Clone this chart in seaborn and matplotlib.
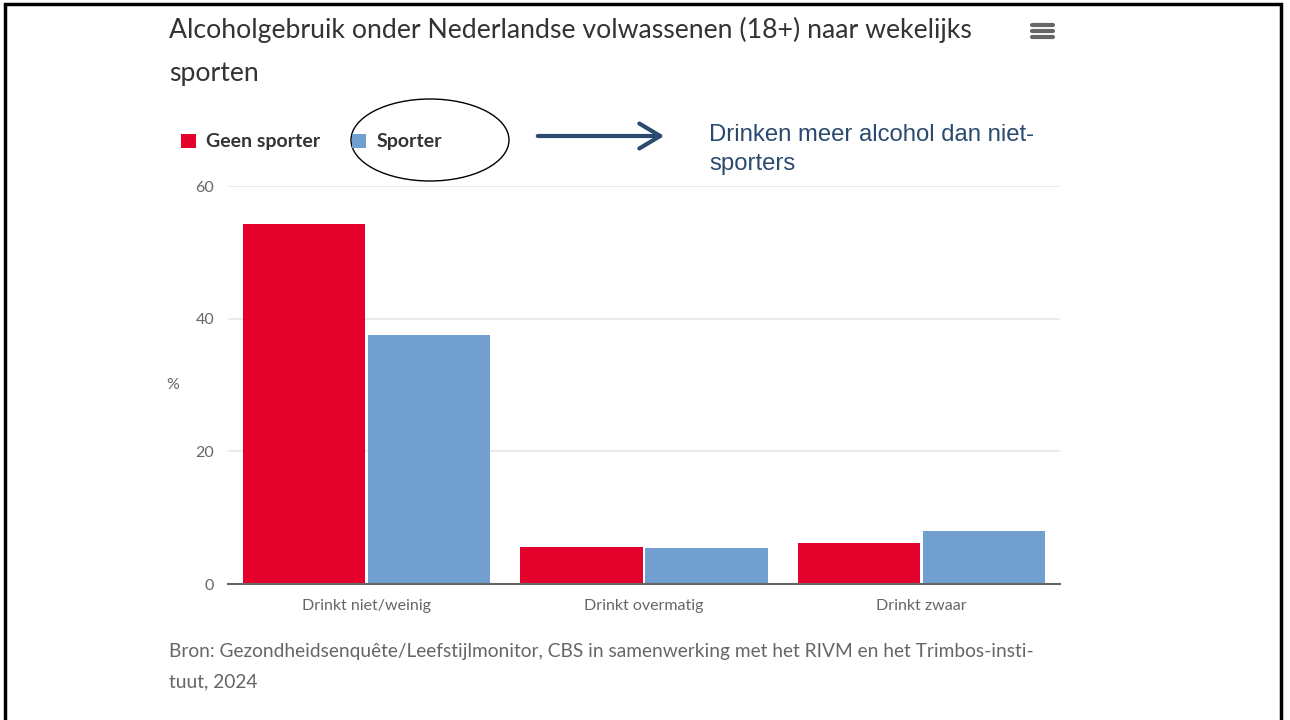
import matplotlib
matplotlib.use("Agg")
import matplotlib.pyplot as plt
import seaborn as sns
import pandas as pd
from matplotlib.patches import Rectangle, Ellipse, FancyArrowPatch, Patch
from matplotlib.lines import Line2D

categories = ["Drinkt niet/weinig", "Drinkt overmatig", "Drinkt zwaar"]
series_names = ["Geen sporter", "Sporter"]
geen_sporter = [54.3, 5.6, 6.2]
sporter = [37.5, 5.4, 8.0]
yticks = [0, 20, 40, 60]

colors = {"Geen sporter": "#E4022D", "Sporter": "#709FD0"}

df = pd.DataFrame({
    "categorie": categories * 2,
    "groep": [series_names[0]] * 3 + [series_names[1]] * 3,
    "waarde": geen_sporter + sporter,
})

sns.set_style("white")
plt.rcParams["font.family"] = ["Lato", "DejaVu Sans"]

W, H = 1290, 720
fig = plt.figure(figsize=(W / 100, H / 100), dpi=100)
ax = fig.add_axes([228 / W, 1 - 584 / H, (1060 - 228) / W, (584 - 186) / H])

sns.barplot(data=df, x="categorie", y="waarde", hue="groep", order=categories,
            hue_order=series_names, palette=colors, width=0.9, gap=0.02,
            saturation=1, ax=ax, legend=False, edgecolor="none")

ax.set_ylim(0, 60)
ax.set_yticks(yticks)
ax.set_yticklabels([str(t) for t in yticks], color="#666666", fontsize=11.5)
ax.tick_params(axis="y", length=0, pad=10)
ax.tick_params(axis="x", length=0, pad=11, labelsize=11.5, labelcolor="#666666")
ax.grid(axis="y", color="#e6e6e6", linewidth=1.2)
ax.set_axisbelow(True)
for s in ["top", "right", "left"]:
    ax.spines[s].set_visible(False)
ax.spines["bottom"].set_color("#666666")
ax.spines["bottom"].set_linewidth(1.5)
ax.set_xlabel("")
ax.set_ylabel("%", rotation=0, color="#666666", fontsize=11.5, va="center")
ax.yaxis.set_label_coords((173 - 228) / (1060 - 228), (584 - 385) / (584 - 186))

# Title
fig.text(169 / W, 1 - 30 / H, "Alcoholgebruik onder Nederlandse volwassenen (18+) naar wekelijks",
         fontsize=19.2, color="#333333", va="center", ha="left")
fig.text(169 / W, 1 - 74 / H, "sporten", fontsize=19.2, color="#333333", va="center", ha="left")

# Hamburger icon
for yy in [25, 31, 37]:
    fig.add_artist(Line2D([1032 / W, 1053 / W], [1 - yy / H, 1 - yy / H],
                          color="#666666", linewidth=3, solid_capstyle="round"))

# Legend
handles = [Patch(facecolor=colors[n], edgecolor="none") for n in series_names]
leg = fig.legend(handles, series_names, loc="center left",
                 bbox_to_anchor=(181 / W, 1 - 142 / H), ncol=2, frameon=False,
                 prop={"weight": "bold", "size": 14}, handlelength=0.75, handleheight=0.75,
                 handletextpad=0.55, columnspacing=1.6, borderpad=0, borderaxespad=0)
for t in leg.get_texts():
    t.set_color("#333333")

# Ellipse around "Sporter"
fig.add_artist(Ellipse((430 / W, 1 - 140 / H), 158 / W, 82 / H, fill=False,
                       edgecolor="black", linewidth=1.0, transform=fig.transFigure))

# Arrow
fig.add_artist(FancyArrowPatch((535 / W, 1 - 136 / H), (667 / W, 1 - 136 / H),
                               transform=fig.transFigure, arrowstyle="->,head_length=10,head_width=6",
                               color="#2B4A6F", linewidth=3, mutation_scale=1.5))

fig.text(709 / W, 1 - 135 / H, "Drinken meer alcohol dan niet-", fontsize=17.2,
         color="#2B4A6F", va="center", ha="left", family=["Liberation Sans", "DejaVu Sans"])
fig.text(709 / W, 1 - 164 / H, "sporters", fontsize=17.2,
         color="#2B4A6F", va="center", ha="left", family=["Liberation Sans", "DejaVu Sans"])

# Source
fig.text(169 / W, 1 - 651 / H,
         "Bron: Gezondheidsenquête/Leefstijlmonitor, CBS in samenwerking met het RIVM en het Trimbos-insti-",
         fontsize=13.8, color="#666666", va="center", ha="left")
fig.text(169 / W, 1 - 682 / H, "tuut, 2024", fontsize=13.8, color="#666666", va="center", ha="left")

# Outer frame
fig.add_artist(Rectangle((5 / W, -0.02), (1281 - 5) / W, 1 - 4 / H + 0.02, fill=False,
                         edgecolor="black", linewidth=2.5, transform=fig.transFigure))

fig.savefig("out.png", dpi=100, facecolor="white")
